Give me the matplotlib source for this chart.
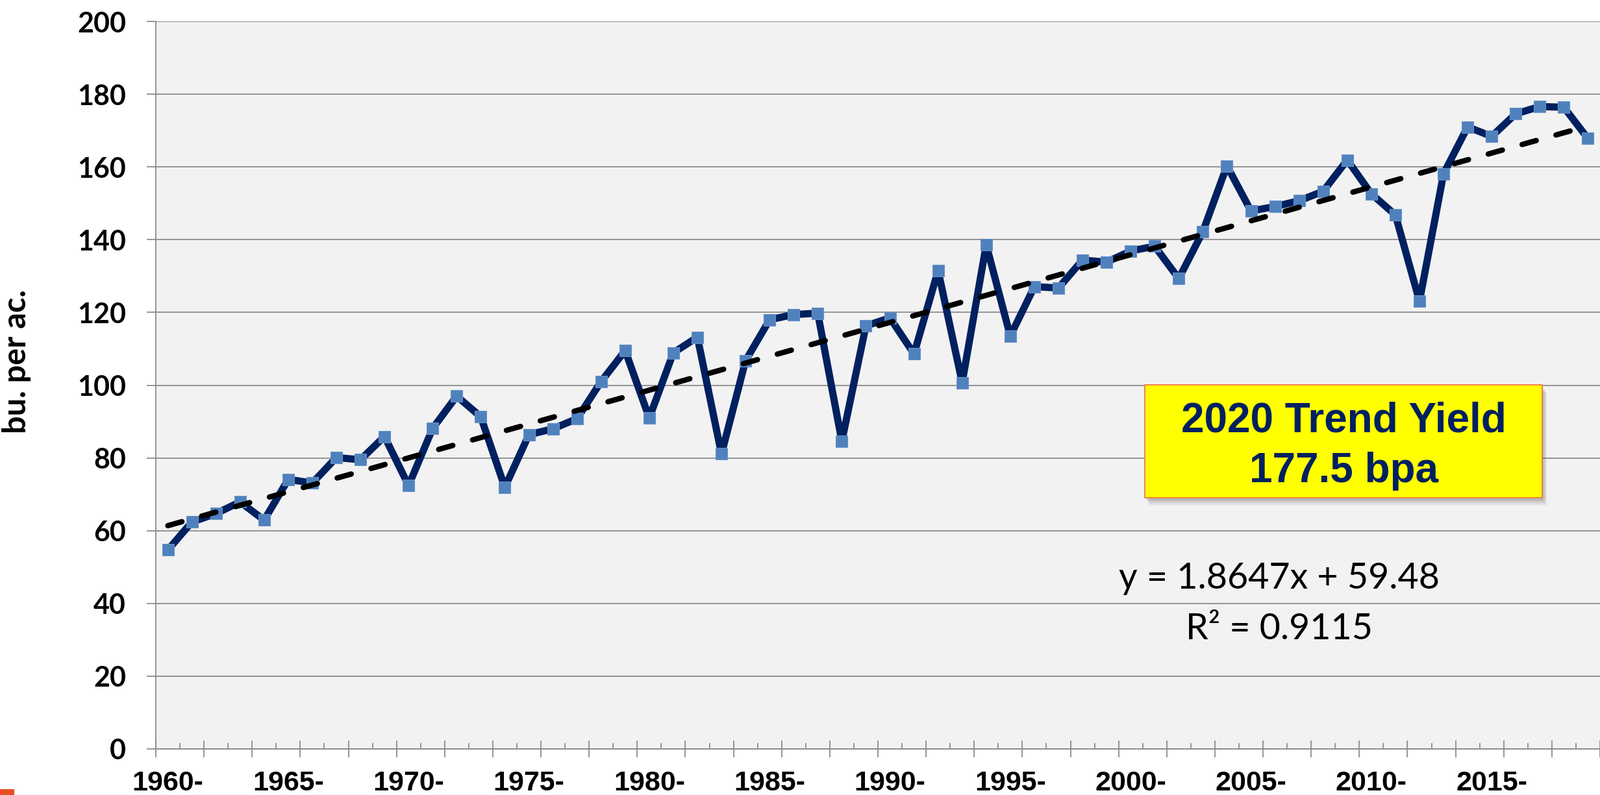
import numpy as np
import matplotlib
matplotlib.use("Agg")
import matplotlib.pyplot as plt
from matplotlib.patches import Rectangle
from matplotlib.font_manager import FontProperties

# ---- data ----
years = list(range(1960, 2020))
yields = [54.7, 62.4, 64.7, 67.9, 62.9, 74.1, 73.1, 80.1, 79.5, 85.9,
          72.4, 88.1, 97.0, 91.3, 71.9, 86.4, 88.0, 90.8, 101.0, 109.5,
          91.0, 108.9, 113.2, 81.1, 106.7, 118.0, 119.4, 119.8, 84.6, 116.3,
          118.5, 108.6, 131.5, 100.7, 138.6, 113.5, 127.1, 126.7, 134.4, 133.8,
          136.9, 138.2, 129.3, 142.2, 160.3, 147.9, 149.1, 150.7, 153.3, 161.9,
          152.6, 146.8, 123.1, 158.1, 171.0, 168.4, 174.6, 176.6, 176.4, 167.8]
label_years = [1960, 1965, 1970, 1975, 1980, 1985, 1990, 1995, 2000, 2005, 2010, 2015]
y_ticks = list(range(0, 201, 20))
box_lines = ["2020 Trend Yield", "177.5 bpa"]
eq_lines = ["y = 1.8647x + 59.48", "R\u00b2 = 0.9115"]
ylabel = "bu. per ac."

W, H = 2464, 1225
fig = plt.figure(figsize=(W / 100, H / 100), dpi=100, facecolor="white")
ax_l, ax_r, ax_top, ax_bot = 240, 2464, 33, 1154
ax = fig.add_axes([ax_l / W, 1 - ax_bot / H, (ax_r - ax_l) / W, (ax_bot - ax_top) / H])
ax.set_facecolor("#F2F2F2")

grid_c = "#8C8C8C"
idx = np.arange(len(years))

# series
ax.plot(idx, yields, color="#00205F", lw=8, zorder=3, solid_joinstyle="round",
        solid_capstyle="round",
        marker="s", markersize=12.5, markerfacecolor="#4F81BD",
        markeredgecolor="#6892C8", markeredgewidth=0.8)

# linear trend (Excel style, x = 1..N)
xs = idx + 1
coef = np.polyfit(xs, yields, 1)
trend = np.polyval(coef, xs)
ax.plot(idx, trend, color="black", lw=6, ls=(0, (2.7, 3.8)),
        dash_capstyle="round", zorder=4)

ax.set_xlim(-0.5, len(years) - 0.5)
ax.set_ylim(0, 200)

# grid
ax.set_yticks(y_ticks)
ax.yaxis.grid(True, color=grid_c, lw=1.3, zorder=0)
ax.set_axisbelow(True)
for s in ["top", "right"]:
    ax.spines[s].set_visible(False)
for s in ["left", "bottom"]:
    ax.spines[s].set_color(grid_c)
    ax.spines[s].set_linewidth(1.3)
    ax.spines[s].set_zorder(2)

lato_b = FontProperties(family="Lato", weight="bold", size=31)
ax.tick_params(axis="y", direction="out", length=10, width=1.3, color=grid_c, pad=23)
ax.set_yticklabels([str(v) for v in y_ticks])
for t in ax.get_yticklabels():
    t.set_fontproperties(lato_b)

# x labels at category centres
lab_pos = [years.index(y) for y in label_years]
ax.set_xticks(lab_pos)
ax.set_xticklabels([f"{y}-" for y in label_years])
xfont = FontProperties(family="Liberation Sans", weight="bold", size=31)
for t in ax.get_xticklabels():
    t.set_fontproperties(xfont)
ax.tick_params(axis="x", which="major", length=0, pad=24)

# long tick marks every two categories
long_pos = np.arange(-0.5, len(years), 2.0)
ax.set_xticks(long_pos, minor=True)
ax.tick_params(axis="x", which="minor", direction="inout", length=18.7, width=1.3, color=grid_c)

# short tick marks on other boundaries
sec = ax.secondary_xaxis("bottom")
sec.set_xticks(np.arange(0.5, len(years), 2.0))
sec.tick_params(axis="x", direction="in", length=6.5, width=1.3, color=grid_c, labelbottom=False)
sec.spines["bottom"].set_color(grid_c)
sec.spines["bottom"].set_linewidth(1.3)

# y label
fig.text(26 / W, 1 - 557 / H, ylabel, rotation=90, ha="center", va="center",
         fontproperties=FontProperties(family="Lato", weight="bold", size=35))

# yellow box with shadow
def axf(px, py):
    return (px - ax_l) / (ax_r - ax_l), (ax_bot - py) / (ax_bot - ax_top)

bx0, by1 = axf(1763, 593)
bx1, by0 = axf(2375, 767)
for k, a in enumerate([0.06, 0.06, 0.07, 0.08, 0.10]):
    off = 12 - 2 * k
    sx, sy = off / (ax_r - ax_l), off / (ax_bot - ax_top)
    ax.add_patch(Rectangle((bx0 + sx * 0.6, by0 - sy), bx1 - bx0, by1 - by0,
                           transform=ax.transAxes, facecolor="#404040", edgecolor="none",
                           alpha=a, zorder=5))
ax.add_patch(Rectangle((bx0, by0), bx1 - bx0, by1 - by0, transform=ax.transAxes,
                       facecolor="#FFFF00", edgecolor="#F07040", lw=1.2, zorder=6))
cx = (bx0 + bx1) / 2
bfont = FontProperties(family="Liberation Sans", weight="bold", size=46)
ax.text(cx, axf(0, 666)[1], box_lines[0], transform=ax.transAxes, ha="center",
        va="baseline", color="#002060", fontproperties=bfont, zorder=7)
ax.text(cx, axf(0, 743)[1], box_lines[1], transform=ax.transAxes, ha="center",
        va="baseline", color="#002060", fontproperties=bfont, zorder=7)

# equation
efont = FontProperties(family="Lato", size=40)
ex = axf(1970, 0)[0]
ax.text(ex, axf(0, 907)[1], eq_lines[0], transform=ax.transAxes, ha="center",
        va="baseline", color="black", fontproperties=efont, zorder=7)
ax.text(ex, axf(0, 985)[1], eq_lines[1], transform=ax.transAxes, ha="center",
        va="baseline", color="black", fontproperties=efont, zorder=7)

# small orange mark at bottom-left corner
fig.patches.append(Rectangle((0, 0), 22 / W, 9 / H, transform=fig.transFigure,
                             facecolor="#E94E25", edgecolor="none"))

fig.savefig("out.png", dpi=100, facecolor="white")
